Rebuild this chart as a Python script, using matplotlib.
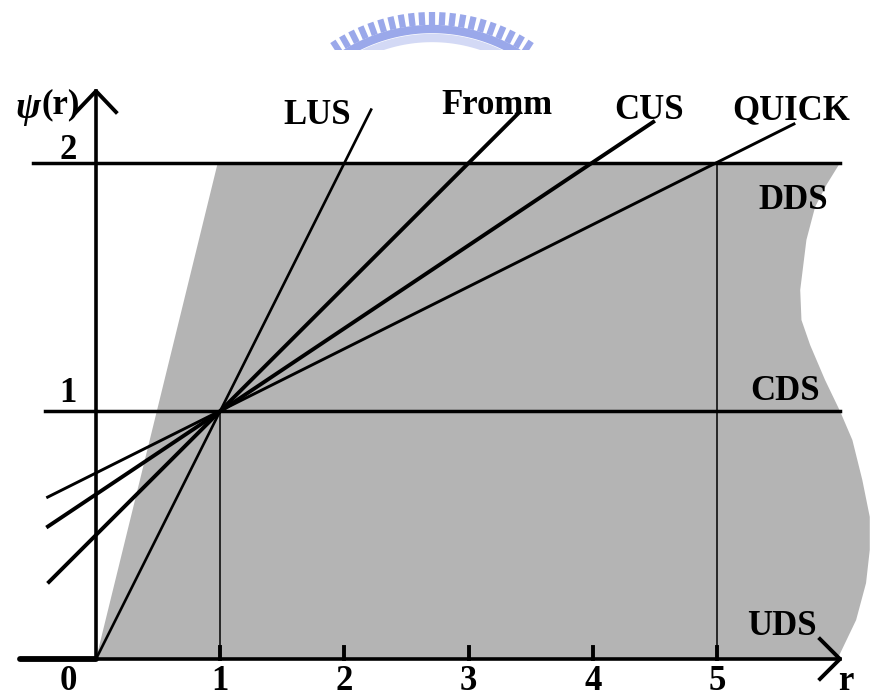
import numpy as np
import matplotlib
matplotlib.use('Agg')
import matplotlib.pyplot as plt
from matplotlib.patches import Polygon

# scheme lines, endpoints (r, psi)
schemes = ['LUS', 'Fromm', 'CUS', 'QUICK']
scheme_r = [[0.0, 2.22], [-0.39, 3.42], [-0.40, 4.50], [-0.40, 5.63]]
scheme_psi = [[0.0, 2.22], [0.305, 2.21], [0.53, 2.17], [0.65, 2.16]]
scheme_lw = [1.9, 2.8, 2.8, 2.1]
label_r = [1.78, 3.23, 4.45, 5.60]
label_psi = [2.19, 2.23, 2.21, 2.21]

# grey region boundary (r, psi)
region_r = [0.0, 0.98, 5.99, 5.88, 5.79, 5.72, 5.67, 5.68, 5.75, 5.87, 5.99,
            6.09, 6.17, 6.23, 6.23, 6.20, 6.12, 5.97]
region_psi = [0.0, 2.0, 2.0, 1.911, 1.823, 1.69, 1.488, 1.367, 1.266, 1.125, 1.0,
              0.883, 0.722, 0.573, 0.44, 0.306, 0.157, 0.0]

# region names
region_names = ['DDS', 'CDS', 'UDS']
region_name_r = [5.61, 5.55, 5.52]
region_name_psi = [1.85, 1.08, 0.13]

# axis ticks
x_ticks = [1, 2, 3, 4, 5]
y_levels = [1, 2]

font = 'Liberation Serif'
px_r = 124.2   # pixels per unit r
px_p = 248.0   # pixels per unit psi

fig = plt.figure(figsize=(8.77, 7), dpi=100)
ax = fig.add_axes([0, 0, 1, 1])
ax.set_xlim(-96 / px_r, (877 - 96) / px_r)
ax.set_ylim(-(700 - 659) / px_p, 659 / px_p)
ax.axis('off')

# grey region
ax.add_patch(Polygon(list(zip(region_r, region_psi)), closed=True,
                     facecolor='#b4b4b4', edgecolor='none', zorder=1))

# thin verticals at r=1 and r=5
ax.plot([1, 1], [0, 1], color='black', lw=1.1, zorder=2)
ax.plot([5, 5], [0, 2], color='black', lw=1.1, zorder=2)

# horizontal levels
ax.plot([-63 / px_r, 5.99], [2, 2], color='black', lw=2.5, zorder=3)
ax.plot([-51 / px_r, 5.99], [1, 1], color='black', lw=2.5, zorder=3)

# axes
ax.plot([-76 / px_r, 0], [0, 0], color='black', lw=4.2, solid_capstyle='round', zorder=4)
ax.plot([0, 5.99], [0, 0], color='black', lw=2.6, zorder=4)
ax.plot([0, 0], [0, 2.29], color='black', lw=2.6, zorder=4)
# arrow heads
ax.plot([-20 / px_r, 0, 20 / px_r], [2.29 - 21 / px_p, 2.29, 2.29 - 21 / px_p],
        color='black', lw=2.8, zorder=4)
ax.plot([5.99 - 20 / px_r, 5.99, 5.99 - 20 / px_r], [20 / px_p, 0, -20 / px_p],
        color='black', lw=2.8, zorder=4)

# tick marks
for t in x_ticks:
    ax.plot([t, t], [0, 12 / px_p], color='black', lw=2.8, zorder=4)

# scheme lines
for rr, pp, lw in zip(scheme_r, scheme_psi, scheme_lw):
    ax.plot(rr, pp, color='black', lw=lw, solid_capstyle='butt', zorder=5)

txt = dict(fontfamily=font, fontweight='bold', fontsize=25, color='black',
           ha='center', va='center', zorder=6)

for name, r, p in zip(schemes, label_r, label_psi):
    ax.text(r, p, name, **txt)
for name, r, p in zip(region_names, region_name_r, region_name_psi):
    ax.text(r, p, name, **txt)

# axis numbers
ax.text(-28 / px_r, -22 / px_p, '0', **txt)
for t in x_ticks:
    ax.text(t, -22 / px_p, str(t), **txt)
ax.text(6.04, -22 / px_p, 'r', **txt)
ax.text(-28 / px_r, 2 + 13 / px_p, '2', **txt)
ax.text(-28 / px_r, 1 + 17 / px_p, '1', **txt)

# psi(r) label
ax.text(-68 / px_r, 2.22, 'ψ', fontfamily=font, fontweight='bold', fontstyle='italic',
        fontsize=27, ha='center', va='center')
ax.text(-55 / px_r, 2.235, '(r)', fontfamily=font, fontweight='bold',
        fontsize=25, ha='left', va='center')

# faint emblem at the top (cut off)
lg = fig.add_axes([0, 650 / 700, 1, 50 / 700])
lg.set_xlim(0, 877)
lg.set_ylim(50, 0)
lg.axis('off')
cx, cy, rad = 432, 194, 182
ang = np.deg2rad(np.arange(-33, 34, 3.3))
for a in ang:
    x0, y0 = cx + rad * np.sin(a), cy - rad * np.cos(a)
    x1, y1 = cx + (rad - 13) * np.sin(a), cy - (rad - 13) * np.cos(a)
    lg.plot([x0, x1], [y0, y1], color='#9aa8ea', lw=4.5, solid_capstyle='butt')
arc = np.deg2rad(np.linspace(-36, 36, 80))
lg.plot(cx + (rad - 17) * np.sin(arc), cy - (rad - 17) * np.cos(arc),
        color='#9aa8ea', lw=6)
lg.plot(cx + (rad - 26) * np.sin(arc), cy - (rad - 26) * np.cos(arc),
        color='#d3d9f5', lw=6)

fig.savefig('out.png', dpi=100)
